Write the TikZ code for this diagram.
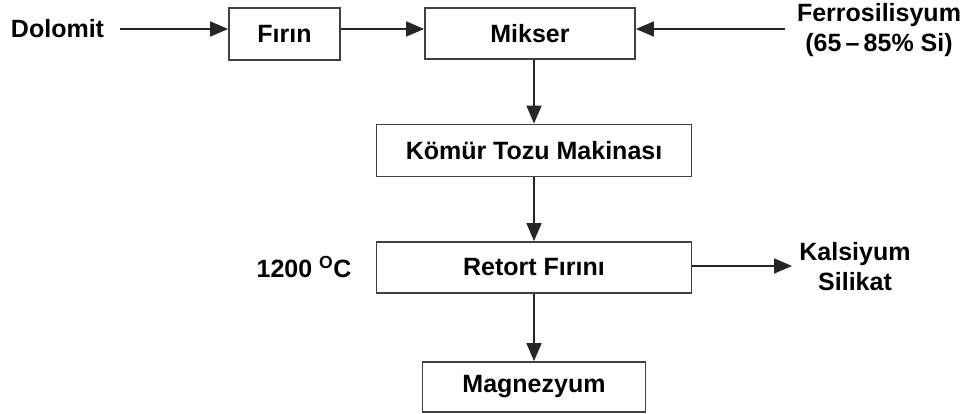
\documentclass[tikz,border=0pt]{standalone}
\usepackage{fontspec}
\setmainfont{Liberation Sans}
\usetikzlibrary{arrows.meta,positioning}

\begin{document}
\begin{tikzpicture}[x=1pt,y=1pt,
                box/.style={draw=black!75, line width=1.8pt, inner sep=0pt, minimum height=52pt},
                lbl/.style={inner sep=0pt, align=center},
                flow/.style={black!85, line width=1.6pt, -{Triangle[length=18pt,width=15pt]}},
                every node/.append style={font=\fontsize{25}{30}\selectfont\bfseries}]
                \useasboundingbox (0,0) rectangle (966,-414);
                % process boxes
                \node [box, minimum width=111pt] (firin) at (284.5,-34) {Fırın};
                \node [box, minimum width=210pt, minimum height=51pt] (mikser) at (530,-33.5) {Mikser};
                \node [box, minimum width=315pt] (komur) at (534,-150.5) {Kömür Tozu Makinası};
                \node [box, minimum width=315pt, minimum height=51pt] (retort) at (534,-267.5) {Retort Fırını};
                \node [box, minimum width=223pt, minimum height=50pt] (magnez) at (534,-387) {Magnezyum};
                % side labels
                \node [lbl] (dolomit) at (57.5,-29) {Dolomit};
                \node [lbl] (ferro) at (879,-30) {Ferrosilisyum\\(65\,--\,85\% Si)};
                \node [lbl] (sicaklik) at (304,-267) {1200 \textsuperscript{O}C};
                \node [lbl] (kalsiyum) at (855,-267) {Kalsiyum\\Silikat};
                \coordinate (dolend) at (120,-29);
                \coordinate (ferroend) at (785,-29);
                \coordinate (kalsend) at (792,-266);
                % connectors
                \draw [flow] (dolend) -- (firin.west |- dolend);
                \draw [flow] (firin.east |- dolend) -- (mikser.west |- dolend);
                \draw [flow] (ferroend) -- (mikser.east |- ferroend);
                \draw [flow] (mikser.south -| komur.north) -- (komur.north);
                \draw [flow] (komur) -- (retort);
                \draw [flow] (retort) -- (magnez);
                \draw [flow] (retort.east |- kalsend) -- (kalsend);
            \end{tikzpicture}
\end{document}
